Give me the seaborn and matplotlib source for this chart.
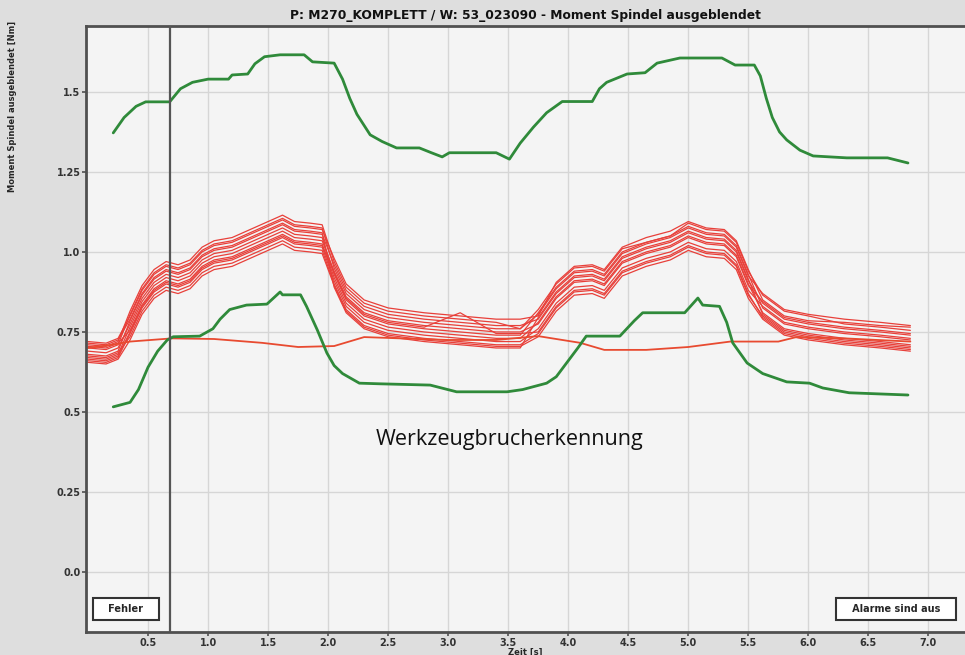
import matplotlib
matplotlib.use("Agg")
import matplotlib.pyplot as plt
import seaborn as sns
import pandas as pd

# ---------------- data ----------------
title = "P: M270_KOMPLETT / W: 53_023090 - Moment Spindel ausgeblendet"
ylabel = "Moment Spindel ausgeblendet [Nm]"
xlabel = "Zeit [s]"
center_text = "Werkzeugbrucherkennung"
box_left = "Fehler"
box_right = "Alarme sind aus"
cursor_x = 0.68

x_ticks = [0.5, 1.0, 1.5, 2.0, 2.5, 3.0, 3.5, 4.0, 4.5, 5.0, 5.5, 6.0, 6.5, 7.0]
x_tick_labels = ["0.5", "1.0", "1.5", "2.0", "2.5", "3.0", "3.5", "4.0", "4.5", "5.0", "5.5", "6.0", "6.5", "7.0"]
y_ticks = [0.0, 0.25, 0.5, 0.75, 1.0, 1.25, 1.5]
y_tick_labels = ["0.0", "0.25", "0.5", "0.75", "1.0", "1.25", "1.5"]

upper_x = [0.21, 0.30, 0.40, 0.48, 0.68, 0.77, 0.87, 1.00, 1.17, 1.20, 1.33, 1.39, 1.47, 1.60, 1.80, 1.87,
           2.05, 2.12, 2.18, 2.24, 2.35, 2.45, 2.57, 2.76, 2.86, 2.95, 3.01, 3.40, 3.51, 3.60, 3.71, 3.82,
           3.95, 4.20, 4.26, 4.32, 4.49, 4.64, 4.74, 4.93, 5.28, 5.39, 5.55, 5.60, 5.65, 5.70, 5.76, 5.82,
           5.93, 6.04, 6.32, 6.66, 6.83]
upper_y = [1.372, 1.42, 1.455, 1.469, 1.469, 1.51, 1.53, 1.54, 1.54, 1.553, 1.556, 1.588, 1.61, 1.616, 1.616, 1.594,
           1.59, 1.54, 1.48, 1.43, 1.366, 1.345, 1.325, 1.325, 1.31, 1.297, 1.31, 1.31, 1.29, 1.34, 1.39, 1.435,
           1.47, 1.47, 1.51, 1.53, 1.556, 1.56, 1.59, 1.606, 1.606, 1.584, 1.584, 1.55, 1.48, 1.42, 1.375, 1.35,
           1.318, 1.30, 1.294, 1.294, 1.278]

lower_x = [0.21, 0.35, 0.42, 0.50, 0.58, 0.66, 0.71, 0.93, 1.04, 1.10, 1.18, 1.32, 1.49, 1.60, 1.62, 1.77,
           1.82, 1.91, 1.99, 2.05, 2.12, 2.26, 2.43, 2.85, 3.07, 3.49, 3.62, 3.82, 3.90, 4.00, 4.08, 4.15,
           4.43, 4.55, 4.62, 4.97, 5.08, 5.12, 5.26, 5.32, 5.37, 5.49, 5.62, 5.82, 6.01, 6.12, 6.34, 6.83]
lower_y = [0.516, 0.53, 0.57, 0.64, 0.69, 0.725, 0.735, 0.737, 0.76, 0.79, 0.82, 0.834, 0.837, 0.875, 0.866, 0.866,
           0.83, 0.756, 0.684, 0.645, 0.62, 0.59, 0.588, 0.584, 0.563, 0.563, 0.57, 0.59, 0.61, 0.66, 0.70, 0.737,
           0.737, 0.785, 0.81, 0.81, 0.856, 0.834, 0.83, 0.78, 0.716, 0.653, 0.62, 0.594, 0.59, 0.575, 0.56, 0.553]

flat_x = [0.0, 0.2, 0.35, 0.7, 1.05, 1.45, 1.75, 2.05, 2.3, 2.6, 3.0, 3.4, 3.75, 4.1, 4.3, 4.65, 5.0, 5.35,
          5.75, 5.9, 6.3, 6.85]
flat_y = [0.70, 0.71, 0.72, 0.73, 0.728, 0.716, 0.703, 0.706, 0.734, 0.73, 0.725, 0.725, 0.737, 0.716, 0.694,
          0.694, 0.703, 0.72, 0.72, 0.734, 0.73, 0.72]

trace_x = [0.00, 0.15, 0.25, 0.35, 0.45, 0.55, 0.65, 0.75, 0.85, 0.95, 1.05, 1.20, 1.35, 1.50, 1.62, 1.72,
           1.85, 1.95, 2.05, 2.15, 2.30, 2.50, 2.80, 3.10, 3.40, 3.60, 3.75, 3.90, 4.05, 4.20, 4.30, 4.45,
           4.65, 4.85, 5.00, 5.15, 5.30, 5.40, 5.50, 5.62, 5.80, 6.00, 6.30, 6.60, 6.85]

trace_01 = [0.71, 0.705, 0.72, 0.815, 0.895, 0.945, 0.97, 0.96, 0.975, 1.015, 1.035, 1.045, 1.07, 1.095, 1.115, 1.095, 1.09, 1.085,
            0.97, 0.89, 0.84, 0.815, 0.80, 0.79, 0.78, 0.76,
            0.82, 0.90, 0.95, 0.955, 0.94, 1.01, 1.03, 1.05, 1.09, 1.07, 1.065, 1.03, 0.94,
            0.865, 0.815, 0.80, 0.775, 0.765, 0.755]
trace_02 = [0.72, 0.715, 0.73, 0.80, 0.88, 0.93, 0.955, 0.945, 0.96, 1.00, 1.02, 1.03, 1.055, 1.08, 1.10, 1.08, 1.075, 1.07,
            0.98, 0.90, 0.85, 0.825, 0.81, 0.80, 0.79, 0.79,
            0.80, 0.905, 0.955, 0.96, 0.945, 1.015, 1.045, 1.065, 1.095, 1.075, 1.07, 1.035, 0.945,
            0.85, 0.80, 0.785, 0.78, 0.77, 0.765]
trace_03 = [0.70, 0.695, 0.71, 0.805, 0.885, 0.935, 0.96, 0.95, 0.965, 1.005, 1.025, 1.035, 1.06, 1.085, 1.105, 1.085, 1.08, 1.075,
            0.95, 0.87, 0.82, 0.795, 0.78, 0.77, 0.76, 0.76,
            0.805, 0.885, 0.935, 0.94, 0.925, 0.995, 1.025, 1.045, 1.075, 1.055, 1.05, 1.015, 0.925,
            0.87, 0.82, 0.805, 0.79, 0.78, 0.77]
trace_04 = [0.68, 0.675, 0.69, 0.785, 0.865, 0.915, 0.94, 0.93, 0.945, 0.985, 1.005, 1.015, 1.04, 1.065, 1.085, 1.065, 1.06, 1.055,
            0.96, 0.88, 0.83, 0.805, 0.79, 0.78, 0.77, 0.77,
            0.79, 0.87, 0.92, 0.925, 0.91, 0.98, 1.01, 1.03, 1.06, 1.04, 1.035, 1.00, 0.91,
            0.84, 0.79, 0.775, 0.76, 0.75, 0.74]
trace_05 = [0.69, 0.685, 0.70, 0.775, 0.855, 0.905, 0.93, 0.92, 0.935, 0.975, 0.995, 1.005, 1.03, 1.055, 1.075, 1.055, 1.05, 1.045,
            0.93, 0.85, 0.80, 0.775, 0.76, 0.75, 0.74, 0.74,
            0.81, 0.89, 0.94, 0.945, 0.93, 1.00, 1.03, 1.05, 1.08, 1.06, 1.055, 1.02, 0.93,
            0.825, 0.775, 0.76, 0.745, 0.735, 0.725]
trace_06 = [0.67, 0.665, 0.68, 0.765, 0.845, 0.895, 0.92, 0.91, 0.925, 0.965, 0.985, 0.995, 1.02, 1.045, 1.065, 1.045, 1.04, 1.035,
            0.94, 0.86, 0.81, 0.785, 0.77, 0.76, 0.75, 0.75,
            0.775, 0.855, 0.905, 0.91, 0.895, 0.965, 0.995, 1.015, 1.045, 1.025, 1.02, 0.985, 0.895,
            0.845, 0.795, 0.78, 0.765, 0.755, 0.745]
trace_07 = [0.705, 0.70, 0.715, 0.755, 0.835, 0.885, 0.91, 0.90, 0.915, 0.955, 0.975, 0.985, 1.01, 1.035, 1.055, 1.035, 1.03, 1.025,
            0.92, 0.84, 0.79, 0.765, 0.75, 0.74, 0.73, 0.73,
            0.78, 0.86, 0.91, 0.915, 0.90, 0.97, 1.00, 1.02, 1.05, 1.03, 1.025, 0.99, 0.90,
            0.81, 0.76, 0.745, 0.73, 0.72, 0.71]
trace_08 = [0.66, 0.655, 0.67, 0.745, 0.825, 0.875, 0.90, 0.89, 0.905, 0.945, 0.965, 0.975, 1.00, 1.025, 1.045, 1.025, 1.02, 1.015,
            0.91, 0.83, 0.78, 0.755, 0.74, 0.73, 0.72, 0.72,
            0.76, 0.84, 0.89, 0.895, 0.88, 0.95, 0.98, 1.00, 1.03, 1.01, 1.005, 0.97, 0.88,
            0.83, 0.78, 0.765, 0.75, 0.74, 0.73]
trace_09 = [0.675, 0.67, 0.685, 0.735, 0.815, 0.865, 0.89, 0.88, 0.895, 0.935, 0.955, 0.965, 0.99, 1.015, 1.035, 1.015, 1.01, 1.005,
            0.90, 0.82, 0.77, 0.745, 0.73, 0.72, 0.71, 0.71,
            0.745, 0.825, 0.875, 0.88, 0.865, 0.935, 0.965, 0.985, 1.015, 0.995, 0.99, 0.955, 0.865,
            0.80, 0.75, 0.735, 0.72, 0.71, 0.70]
trace_10 = [0.655, 0.65, 0.665, 0.725, 0.805, 0.855, 0.88, 0.87, 0.885, 0.925, 0.945, 0.955, 0.98, 1.005, 1.025, 1.005, 1.00, 0.995,
            0.895, 0.815, 0.765, 0.74, 0.725, 0.715, 0.705, 0.705,
            0.735, 0.815, 0.865, 0.87, 0.855, 0.925, 0.955, 0.975, 1.005, 0.985, 0.98, 0.945, 0.855,
            0.79, 0.74, 0.725, 0.71, 0.70, 0.69]
trace_11 = [0.715, 0.71, 0.725, 0.79, 0.87, 0.92, 0.945, 0.935, 0.95, 0.99, 1.01, 1.02, 1.045, 1.07, 1.09, 1.07, 1.065, 1.06,
            0.89, 0.81, 0.76, 0.735, 0.72, 0.71, 0.70, 0.70,
            0.795, 0.875, 0.925, 0.93, 0.915, 0.985, 1.015, 1.035, 1.065, 1.045, 1.04, 1.005, 0.915,
            0.805, 0.755, 0.74, 0.725, 0.715, 0.705]
trace_12 = [0.665, 0.66, 0.675, 0.75, 0.83, 0.88, 0.905, 0.895, 0.91, 0.95, 0.97, 0.98, 1.005, 1.03, 1.05, 1.03, 1.025, 1.02,
            0.935, 0.855, 0.805, 0.78, 0.765, 0.81, 0.745, 0.745,
            0.75, 0.83, 0.88, 0.885, 0.87, 0.94, 0.97, 0.99, 1.02, 1.00, 0.995, 0.96, 0.87,
            0.795, 0.745, 0.73, 0.715, 0.705, 0.695]

red_traces = [trace_01, trace_02, trace_03, trace_04, trace_05, trace_06,
              trace_07, trace_08, trace_09, trace_10, trace_11, trace_12]

# ---------------- build long-form table ----------------
rows = []
for i, tr in enumerate(red_traces):
    for xv, yv in zip(trace_x, tr):
        rows.append({"t": xv, "m": yv, "trace": i})
df_red = pd.DataFrame(rows)
df_up = pd.DataFrame({"t": upper_x, "m": upper_y})
df_lo = pd.DataFrame({"t": lower_x, "m": lower_y})
df_flat = pd.DataFrame({"t": flat_x, "m": flat_y})

# ---------------- style ----------------
sns.set_theme(style="whitegrid")
plt.rcParams["font.family"] = ["DejaVu Sans"]

RED = "#e8403a"
GREEN = "#2f8a3a"

fig = plt.figure(figsize=(9.65, 6.55), dpi=100, facecolor="#dedede")
ax = fig.add_axes([86 / 965, 1 - 632 / 655, 1 - 86 / 965, (632 - 26) / 655])
ax.set_facecolor("#f4f4f4")

sns.lineplot(data=df_red, x="t", y="m", units="trace", estimator=None, sort=False,
             color=RED, lw=0.9, ax=ax)
sns.lineplot(data=df_flat, x="t", y="m", estimator=None, sort=False,
             color="#e84a30", lw=1.3, ax=ax)
sns.lineplot(data=df_up, x="t", y="m", estimator=None, sort=False,
             color=GREEN, lw=2.0, ax=ax)
sns.lineplot(data=df_lo, x="t", y="m", estimator=None, sort=False,
             color=GREEN, lw=2.0, ax=ax)

ax.axvline(cursor_x, color="#555555", lw=1.6, zorder=5)

ax.set_xlim(-0.017, 7.305)
ax.set_ylim(-0.1875, 1.706)
ax.set_xticks(x_ticks)
ax.set_xticklabels(x_tick_labels)
ax.set_yticks(y_ticks)
ax.set_yticklabels(y_tick_labels)

ax.grid(True, color="#d6d6d6", lw=1.0)
for s in ["left", "bottom", "top"]:
    ax.spines[s].set_visible(True)
    ax.spines[s].set_color("#505050")
    ax.spines[s].set_linewidth(2.0)
ax.spines["right"].set_visible(False)

ax.tick_params(axis="both", which="major", labelsize=7, length=3, width=1.2,
               color="#505050", labelcolor="#333333", pad=1.0, direction="out")
ax.tick_params(axis="x", bottom=True)
ax.tick_params(axis="y", left=True)
for lab in ax.get_xticklabels() + ax.get_yticklabels():
    lab.set_fontweight("bold")

ax.set_title(title, fontsize=8.8, fontweight="bold", color="#111111", pad=5)
ax.set_xlabel(xlabel, fontsize=6, fontweight="bold", labelpad=0)
ax.set_ylabel(ylabel, fontsize=6, fontweight="bold")
ax.yaxis.set_label_coords(-0.078, 0.868)

ax.text(0.482, 0.317, center_text, transform=ax.transAxes, ha="center", va="center",
        fontsize=15.5, family=["Open Sans", "DejaVu Sans"], color="#111111")

box_kw = dict(boxstyle="square,pad=0.6", fc="white", ec="#333333", lw=1.5)
ax.text(0.0455, 0.038, "   " + box_left + "   ", transform=ax.transAxes, ha="center", va="center",
        fontsize=7, fontweight="bold", bbox=box_kw, zorder=6)
ax.text(0.9215, 0.038, "   " + box_right + "   ", transform=ax.transAxes, ha="center", va="center",
        fontsize=7, fontweight="bold", bbox=box_kw, zorder=6)

fig.savefig("out.png", dpi=100, facecolor=fig.get_facecolor())
